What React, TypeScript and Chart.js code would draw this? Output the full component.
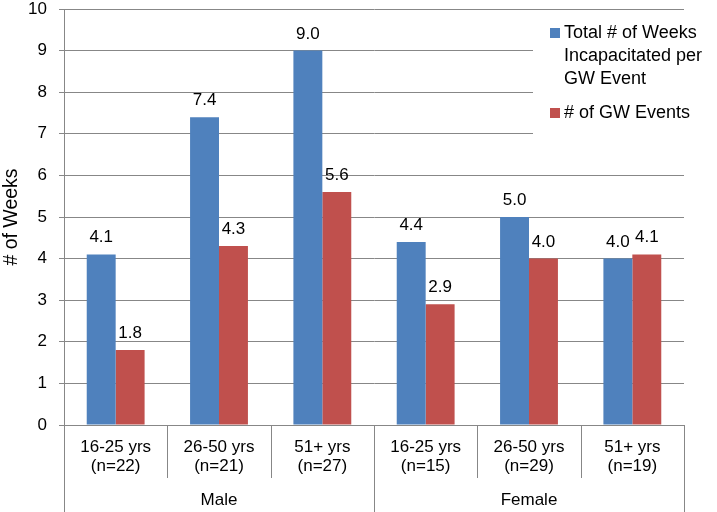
import React, { useEffect, useRef } from 'react';
import { Chart, registerables } from 'chart.js';

Chart.register(...registerables);

// ---- Data ----
const CATEGORIES: string[][] = [
  ['16-25 yrs', '(n=22)'],
  ['26-50 yrs', '(n=21)'],
  ['51+ yrs', '(n=27)'],
  ['16-25 yrs', '(n=15)'],
  ['26-50 yrs', '(n=29)'],
  ['51+ yrs', '(n=19)'],
];
const GROUPS: string[] = ['Male', 'Female'];
const GROUP_SIZES: number[] = [3, 3];
const SERIES_NAMES: string[][] = [
  ['Total # of Weeks', 'Incapacitated per', 'GW Event'],
  ['# of GW Events'],
];
const WEEKS_INCAPACITATED: number[] = [4.1, 7.4, 9.0, 4.4, 5.0, 4.0];
const GW_EVENTS: number[] = [1.8, 4.3, 5.6, 2.9, 4.0, 4.1];
const Y_TICKS: number[] = [0, 1, 2, 3, 4, 5, 6, 7, 8, 9, 10];
const Y_TITLE = '# of Weeks';

// ---- Styles ----
const COLORS = ['#4F81BD', '#C0504D'];
const GRID = '#878787';
const FONT = '"Liberation Sans", Arial, sans-serif';

const overlayPlugin = {
  id: 'overlay',
  afterDraw(chart: any) {
    const { ctx, chartArea, scales } = chart;
    const xs = scales.x;
    const n = CATEGORIES.length;
    const step = n > 1 ? xs.getPixelForValue(1) - xs.getPixelForValue(0) : xs.width;
    ctx.save();

    // category & group separators
    const groupBounds = new Set<number>([0]);
    let acc = 0;
    GROUP_SIZES.forEach((s) => { acc += s; groupBounds.add(acc); });
    ctx.strokeStyle = GRID;
    ctx.lineWidth = 1;
    for (let i = 0; i <= n; i++) {
      const bx = i < n ? xs.getPixelForValue(i) - step / 2 : xs.getPixelForValue(n - 1) + step / 2;
      const px = Math.round(bx) + 0.5;
      const y2 = groupBounds.has(i) ? chart.height : chartArea.bottom + 53;
      ctx.beginPath();
      ctx.moveTo(px, chartArea.bottom);
      ctx.lineTo(px, y2);
      ctx.stroke();
    }

    // group labels
    ctx.fillStyle = '#000';
    ctx.font = `17px ${FONT}`;
    ctx.textAlign = 'center';
    ctx.textBaseline = 'middle';
    let start = 0;
    GROUPS.forEach((g, gi) => {
      const end = start + GROUP_SIZES[gi] - 1;
      const cx = (xs.getPixelForValue(start) + xs.getPixelForValue(end)) / 2;
      ctx.fillText(g, cx, chartArea.bottom + 75);
      start += GROUP_SIZES[gi];
    });

    // data labels
    ctx.textBaseline = 'alphabetic';
    chart.data.datasets.forEach((ds: any, di: number) => {
      const meta = chart.getDatasetMeta(di);
      meta.data.forEach((bar: any, i: number) => {
        ctx.fillText(Number(ds.data[i]).toFixed(1), bar.x, bar.y - 12);
      });
    });

    // legend (inside plot, white background)
    const lx = 533;
    ctx.fillStyle = '#fff';
    ctx.fillRect(lx, 15, chart.width - lx, 150);
    ctx.font = `18px ${FONT}`;
    ctx.textAlign = 'left';
    let y = 38;
    SERIES_NAMES.forEach((lines, si) => {
      ctx.fillStyle = COLORS[si];
      ctx.fillRect(550, y - 10, 10, 10);
      ctx.fillStyle = '#000';
      lines.forEach((ln, li) => {
        ctx.fillText(ln, 564, y + li * 23);
      });
      y += lines.length * 23 + 11;
    });
    ctx.restore();
  },
};

export default function App() {
  const ref = useRef<HTMLCanvasElement | null>(null);
  useEffect(() => {
    if (!ref.current) return;
    const chart = new Chart(ref.current, {
      type: 'bar',
      data: {
        labels: CATEGORIES,
        datasets: [
          {
            label: SERIES_NAMES[0].join(' '),
            data: WEEKS_INCAPACITATED,
            backgroundColor: COLORS[0],
            categoryPercentage: 0.56,
            barPercentage: 1.0,
          },
          {
            label: SERIES_NAMES[1].join(' '),
            data: GW_EVENTS,
            backgroundColor: COLORS[1],
            categoryPercentage: 0.56,
            barPercentage: 1.0,
          },
        ],
      },
      options: {
        responsive: false,
        animation: false,
        devicePixelRatio: 1,
        layout: { padding: { left: 0, right: 33, top: 9, bottom: 0 } },
        plugins: { legend: { display: false }, tooltip: { enabled: false } },
        scales: {
          x: {
            type: 'category',
            grid: { display: false, drawTicks: false },
            border: { display: true, color: GRID },
            ticks: {
              color: '#000',
              font: { family: FONT, size: 17, lineHeight: 1.1 },
              padding: 13,
              maxRotation: 0,
              autoSkip: false,
            },
            afterFit: (s: any) => {
              s.height = 87;
              s.paddingLeft = 0;
              s.paddingRight = 0;
            },
          },
          y: {
            min: 0,
            max: 10,
            afterBuildTicks: (s: any) => { s.ticks = Y_TICKS.map((v) => ({ value: v })); },
            grid: { color: GRID, tickLength: 5 },
            border: { display: true, color: GRID },
            ticks: { color: '#000', font: { family: FONT, size: 17 }, padding: 12 },
            title: {
              display: true,
              text: Y_TITLE,
              color: '#000',
              font: { family: FONT, size: 19.5 },
              padding: { top: 0, bottom: 0 },
            },
            afterFit: (s: any) => {
              s.width = 64;
              s.paddingTop = 0;
              s.paddingBottom = 0;
            },
          },
        },
      },
      plugins: [overlayPlugin],
    });
    return () => chart.destroy();
  }, []);

  return (
    <div style={{ position: 'absolute', left: 0, top: 0, width: 717, height: 512, background: '#fff' }}>
      <canvas ref={ref} width={717} height={512} style={{ display: 'block' }} />
    </div>
  );
}
